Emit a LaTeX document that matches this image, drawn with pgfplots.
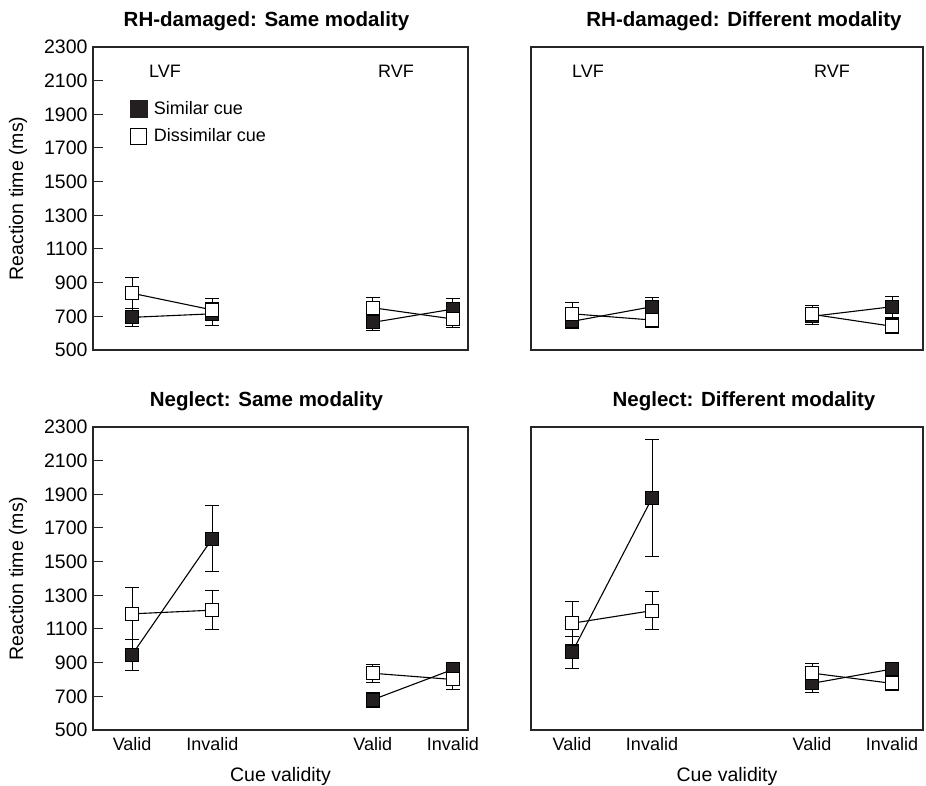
\documentclass[border=0pt]{standalone}
\usepackage{fontspec}
\setmainfont{Liberation Sans}
\usepackage{pgfplots}
\usepackage{pgfplotstable}
\pgfplotsset{compat=1.18}

\definecolor{ink}{HTML}{231F20}

% x: 1 = LVF valid, 2 = LVF invalid, 4 = RVF valid, 5 = RVF invalid
\pgfplotstableread{
x sim sime dis dise
1 694 55 837 92
2 715 70 738 65
3 nan nan nan nan
4 664 50 751 60
5 743 60 684 50
}\rhsame
\pgfplotstableread{
x sim sime dis dise
1 670 45 715 65
2 757 56 678 43
3 nan nan nan nan
4 700 50 712 50
5 757 62 641 46
}\rhdiff
\pgfplotstableread{
x sim sime dis dise
1 948 92 1190 155
2 1637 198 1212 115
3 nan nan nan nan
4 680 45 837 53
5 860 42 800 60
}\negsame
\pgfplotstableread{
x sim sime dis dise
1 961 93 1134 128
2 1877 347 1209 112
3 nan nan nan nan
4 777 53 838 59
5 862 35 777 40
}\negdiff

\pgfplotsset{
  panel/.style={
    scale only axis, height=303pt, ymin=500, ymax=2300,
    unbounded coords=jump, clip=false,
    axis line style={black!85, line width=1.1pt},
    xtick={1,2,4,5}, x tick style={draw=none},
    tick label style={font=\fontsize{18}{20}\selectfont},
    xticklabel style={yshift=-4pt},
    label style={font=\fontsize{19.5}{23}\selectfont},
    xlabel style={yshift=-10pt},
    title style={font=\bfseries\fontsize{20.5}{24}\selectfont, yshift=7pt},
    /pgf/number format/assume math mode=true,
    /pgf/number format/1000 sep={},
  },
  leftpanel/.style={panel, width=375pt, xmin=0.5125, xmax=5.1875,
    ytick={500,700,...,2300}, ytick pos=left, tick align=inside,
    major tick length=10pt, y tick style={black!85, line width=1pt},
    yticklabel style={font=\fontsize{19.5}{22}\selectfont, xshift=-2pt},
    ylabel={Reaction time (ms)}, ylabel style={yshift=10pt}},
  rightpanel/.style={panel, width=392pt, xmin=0.4875, xmax=5.3875, ytick=\empty},
  toprow/.style={xticklabels={}},
  bottomrow/.style={xticklabels={Valid,Invalid,Valid,Invalid}, xlabel={Cue validity}},
  sim/.style={black, line width=1.1pt, mark=square*, mark size=6.5pt,
    mark options={fill=ink, draw=black, line width=0.8pt},
    error bars/.cd, y dir=both, y explicit,
    error bar style={line width=1pt, black},
    error mark=-,
    error mark options={rotate=90, mark size=7pt, line width=1pt, black}},
  dis/.style={black, line width=1.1pt, mark=square*, mark size=6.5pt,
    mark options={fill=white, draw=black, line width=1pt},
    error bars/.cd, y dir=both, y explicit,
    error bar style={line width=1pt, black},
    error mark=-,
    error mark options={rotate=90, mark size=7pt, line width=1pt, black}},
}

\begin{document}
\begin{tikzpicture}
\useasboundingbox (0,0) rectangle (926pt,786pt);

% top left
\begin{axis}[leftpanel, toprow, at={(93pt,436pt)}, anchor=south west,
  title={RH-damaged: Same modality}, title style={xshift=-14pt},
  legend style={at={(0.091,0.835)}, anchor=north west, draw=none, fill=none,
    font=\fontsize{18}{20}\selectfont, row sep=9pt,
    /tikz/every odd column/.append style={column sep=5pt}},
  legend cell align=left]
\addlegendimage{only marks, mark=square*, mark size=8.3pt, mark options={fill=ink, draw=ink}}
\addlegendentry{Similar cue}
\addlegendimage{only marks, mark=square*, mark size=8pt, mark options={fill=white, draw=black, line width=0.7pt}}
\addlegendentry{Dissimilar cue}
\addplot[sim] table[x=x, y=sim, y error=sime] {\rhsame};
\addplot[dis] table[x=x, y=dis, y error=dise] {\rhsame};
\node[font=\fontsize{18}{20}\selectfont] at (axis cs:1.41,2158) {LVF};
\node[font=\fontsize{18}{20}\selectfont] at (axis cs:4.29,2158) {RVF};
\end{axis}

% top right
\begin{axis}[rightpanel, toprow, at={(531pt,436pt)}, anchor=south west,
  title={RH-damaged: Different modality}, title style={xshift=17pt}]
\addplot[sim] table[x=x, y=sim, y error=sime] {\rhdiff};
\addplot[dis] table[x=x, y=dis, y error=dise] {\rhdiff};
\node[font=\fontsize{18}{20}\selectfont] at (axis cs:1.2,2158) {LVF};
\node[font=\fontsize{18}{20}\selectfont] at (axis cs:4.25,2158) {RVF};
\end{axis}

% bottom left
\begin{axis}[leftpanel, bottomrow, at={(93pt,56pt)}, anchor=south west,
  title={Neglect: Same modality}, title style={xshift=-14pt}]
\addplot[sim] table[x=x, y=sim, y error=sime] {\negsame};
\addplot[dis] table[x=x, y=dis, y error=dise] {\negsame};
\end{axis}

% bottom right
\begin{axis}[rightpanel, bottomrow, at={(531pt,56pt)}, anchor=south west,
  title={Neglect: Different modality}, title style={xshift=17pt}]
\addplot[sim] table[x=x, y=sim, y error=sime] {\negdiff};
\addplot[dis] table[x=x, y=dis, y error=dise] {\negdiff};
\end{axis}
\end{tikzpicture}
\end{document}
